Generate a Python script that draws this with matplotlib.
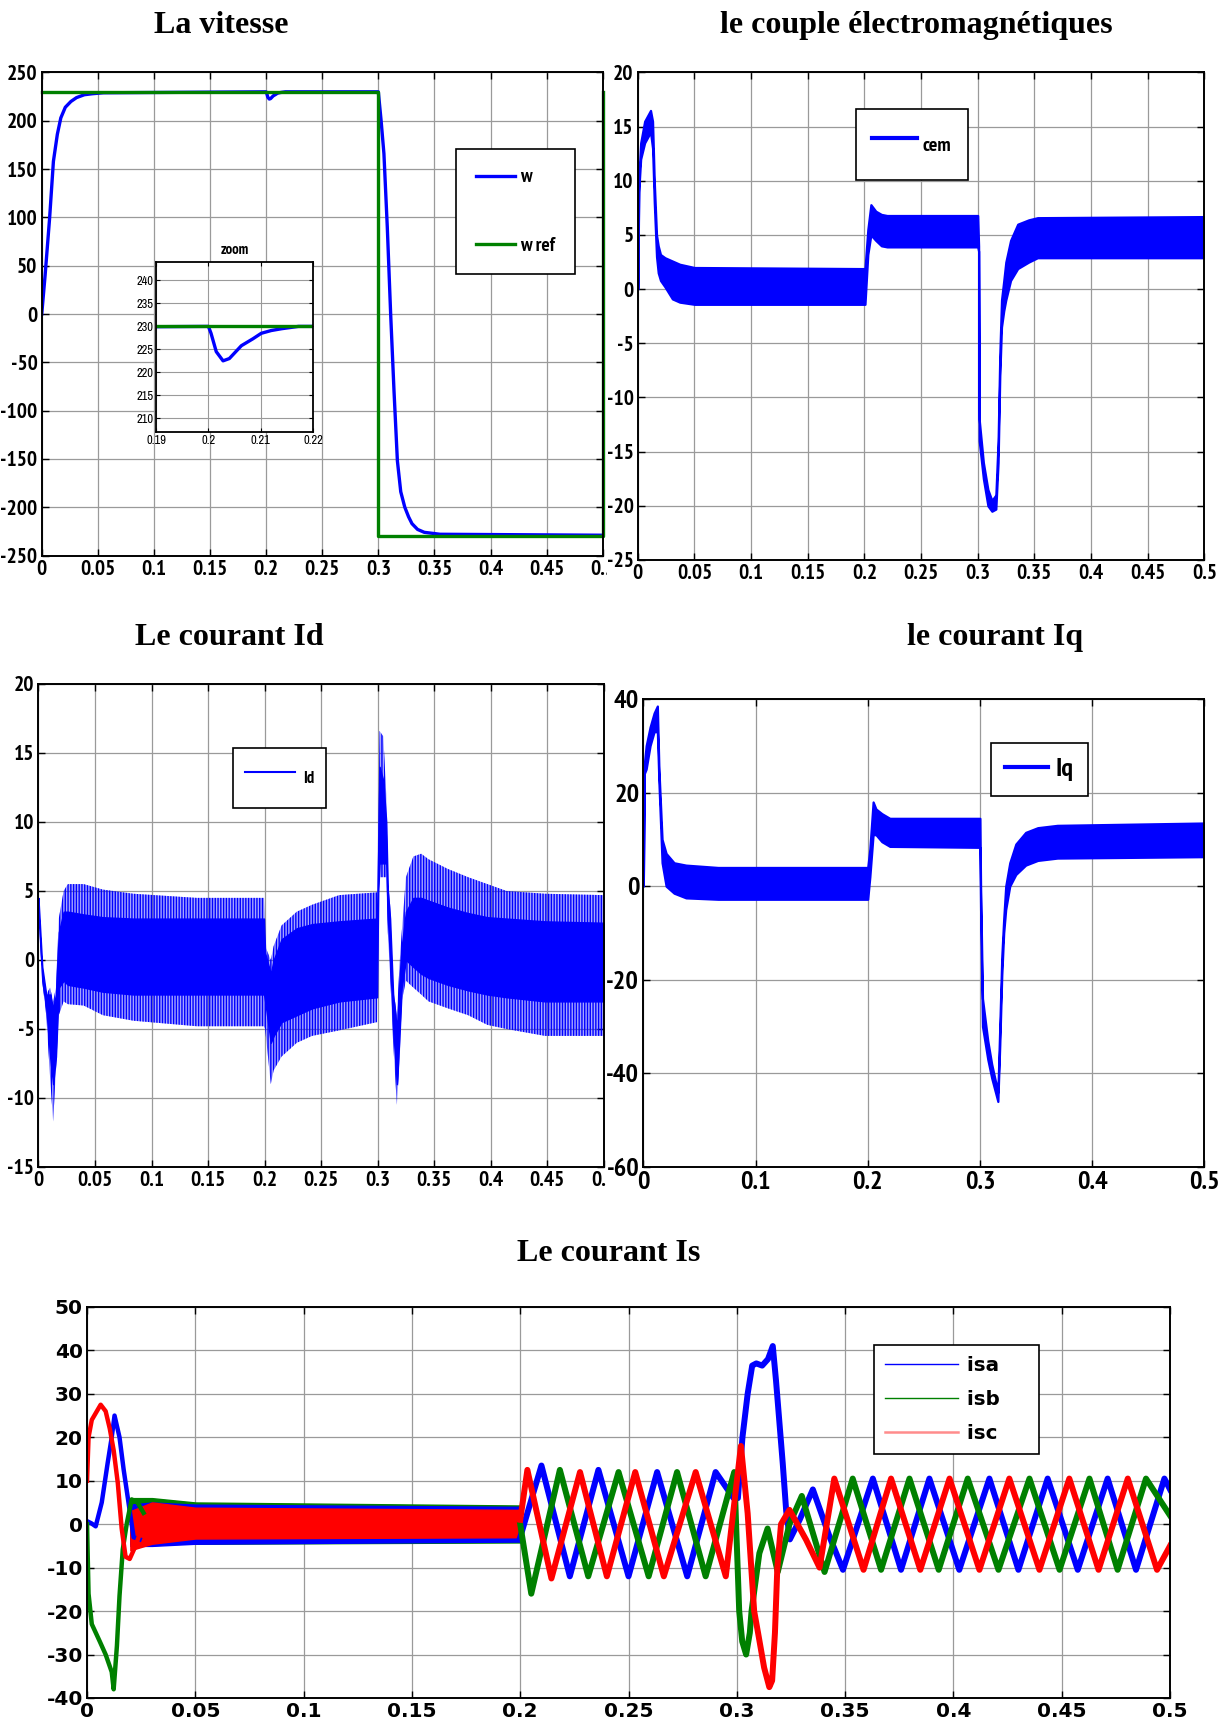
import os
import matplotlib
matplotlib.use("Agg")
import matplotlib.pyplot as plt
from matplotlib import font_manager
from matplotlib.font_manager import FontProperties
from matplotlib.lines import Line2D
from matplotlib.transforms import Bbox, TransformedBbox

# ---------------- data ----------------
# speed w and reference
t_w = [0, 0.003, 0.007, 0.0104, 0.0139, 0.017, 0.021, 0.026, 0.031, 0.038, 0.045, 0.055,
       0.2, 0.2005, 0.2015, 0.2028, 0.204, 0.2063, 0.2085, 0.2101, 0.212, 0.214, 0.2172,
       0.3, 0.3025, 0.305, 0.308, 0.311, 0.314, 0.317, 0.320, 0.3236, 0.327, 0.330, 0.335,
       0.341, 0.355, 0.5]
w = [0, 40, 99, 158, 186, 203, 214, 220, 224, 227, 228, 229,
     230, 228.5, 224.5, 222.5, 223, 225.8, 227.3, 228.5, 229.1, 229.5, 230,
     230, 200, 166, 90, 0, -80, -152, -184, -200, -210, -217, -223,
     -226, -228, -229]
t_wref = [0, 0.3, 0.3, 0.5, 0.5]
wref = [230, 230, -230, -230, 230]

# electromagnetic torque (ripple band: upper / lower envelope)
t_cem = [0, 0.0008, 0.0025, 0.006, 0.0112, 0.013, 0.0145, 0.0165, 0.018, 0.02, 0.024, 0.0305,
         0.037, 0.05, 0.2, 0.2005, 0.203, 0.2057, 0.21, 0.215, 0.22, 0.3, 0.3008, 0.3013,
         0.305, 0.309, 0.3125, 0.316, 0.318, 0.3195, 0.321, 0.323, 0.3248, 0.329, 0.3353,
         0.345, 0.3528, 0.5]
cem_up = [0, 10, 13.5, 15.5, 16.5, 15.5, 10, 5, 4, 3.2, 2.9, 2.6,
          2.3, 2.0, 1.9, 1.9, 5.5, 7.8, 7.2, 6.9, 6.8, 6.8, 4, -12,
          -16, -18.5, -19.5, -19, -14, -6, -1, 0.8, 2.5, 4.5, 6.0,
          6.4, 6.6, 6.7]
cem_lo = [0, 9, 12, 13.5, 14.5, 13, 8, 3, 1.5, 0.8, 0.2, -0.9,
          -1.2, -1.4, -1.4, -1.4, 3.2, 5.0, 4.5, 4.0, 3.9, 3.9, 3.5, -14,
          -17.5, -20, -20.5, -20.3, -16, -8, -3.5, -2, -1, 0.8, 1.9,
          2.5, 2.9, 2.9]

# Id : outer spikes envelope and dense core
t_id = [0, 0.0034, 0.0069, 0.0103, 0.013, 0.0155, 0.018, 0.0223, 0.026, 0.04, 0.057, 0.084,
        0.14, 0.1995, 0.2005, 0.2055, 0.208, 0.215, 0.2285, 0.242, 0.266, 0.2995, 0.3005,
        0.3017, 0.305, 0.3076, 0.309, 0.311, 0.3137, 0.317, 0.3196, 0.3213, 0.325, 0.3316,
        0.3385, 0.345, 0.362, 0.38, 0.397, 0.414, 0.448, 0.5]
id_up = [4.5, -0.5, -2.5, -2, -3, -2, 3, 5, 5.5, 5.5, 5.1, 4.8,
         4.5, 4.5, 1, 0, 1, 2.5, 3.5, 4, 4.7, 4.9, 10,
         16.6, 16.2, 12, 6, 4, -2, -4, 0, 2, 6, 7.5,
         7.7, 7.3, 6.6, 6, 5.5, 5, 4.8, 4.7]
id_lo = [3.5, -1.6, -4, -8.5, -11.7, -8, -4, -3, -3.2, -3.3, -4, -4.4,
         -4.8, -4.8, -5, -9, -8, -7, -6, -5.5, -5.1, -4.5, 4,
         6, 6, 6, 2, -1, -6, -10.5, -7, -3, -1.5, -2,
         -2.5, -3, -3.5, -4, -4.7, -5, -5.5, -5.5]
idc_up = [4.5, -0.5, -2.5, -2.5, -3.5, -2.5, 2, 3.5, 3.5, 3.3, 3.1, 3,
          3, 3, 0.5, -1, 0, 1.5, 2.3, 2.6, 2.8, 3, 8,
          14, 13, 10, 5, 3, -2.5, -5, -1, 1, 3.5, 4.5,
          4.5, 4.3, 3.8, 3.4, 3.1, 3, 2.8, 2.7]
idc_lo = [3.5, -1.5, -3.5, -7, -9, -7, -2, -1.5, -1.8, -2, -2.3, -2.5,
          -2.5, -2.5, -3, -6, -5.5, -4.5, -4, -3.5, -3, -2.7, 5,
          7, 7, 7, 3, 0, -5, -9, -5, -2, 0, -0.5,
          -1, -1.3, -1.8, -2.2, -2.5, -2.7, -3, -3]

# Iq
t_iq = [0, 0.0008, 0.0025, 0.006, 0.0096, 0.0125, 0.0139, 0.0167, 0.0203, 0.0274, 0.038, 0.0666,
        0.2, 0.2019, 0.2048, 0.2073, 0.2126, 0.2197, 0.3, 0.3006, 0.3023, 0.307, 0.3105,
        0.316, 0.3177, 0.3195, 0.3212, 0.323, 0.3266, 0.332, 0.3408, 0.3515, 0.369, 0.5]
iq_up = [0, 26, 30, 34, 37, 38.5, 25, 10, 7, 5, 4.5, 4,
         4, 8, 18, 16.5, 15.5, 14.5, 14.5, 0, -24, -33, -38,
         -44, -30, -15, -7, 0, 5, 9, 11.5, 12.5, 13, 13.5]
iq_lo = [0, 24, 25, 30, 33, 33, 22, 5, 0, -1.5, -2.5, -2.8,
         -2.8, 2, 11, 11, 9.5, 8.5, 8.3, -5, -30, -37, -41,
         -46, -34, -19, -10, -5, 0, 2.5, 4.5, 5.5, 6, 6.3]

# stator currents : start-up transient
isa_t1 = [0, 0.002, 0.004, 0.0068, 0.0095, 0.0114, 0.0127, 0.015, 0.0169, 0.0187, 0.0215, 0.0243]
isa_v1 = [0.7, 0.2, -0.5, 5, 14, 20, 25, 20, 12.6, 6.5, -3, -3.5]
isb_t1 = [0, 0.0007, 0.0022, 0.0059, 0.0086, 0.0114, 0.0123, 0.0138, 0.015, 0.0165, 0.0184, 0.0206, 0.0233, 0.0261]
isb_v1 = [0, -16, -23, -27, -30, -34, -38, -28, -16.5, -5.8, 0.3, 5.7, 5, 2.6]
isc_t1 = [0, 0.0007, 0.0022, 0.0063, 0.0086, 0.0105, 0.0123, 0.0142, 0.016, 0.0178, 0.0197, 0.0224, 0.0252]
isc_v1 = [10, 20, 24, 27.5, 26, 22, 17, 9.5, -1, -7.5, -8, -5, -1]

# stator currents : no-load noise band
t_nz = [0.02, 0.03, 0.05, 0.2]
isa_nz_up = [4.5, 5, 4.5, 4]
isa_nz_lo = [-5, -5, -4.5, -4]
isb_nz_up = [6, 6, 5, 4.3]
isb_nz_lo = [-4.5, -4.5, -4.5, -4.2]
isc_nz_up = [3, 5, 3.8, 3.3]
isc_nz_lo = [-6, -4.5, -3.3, -3]

# stator currents : loaded / reversal (extrema)
isa_t2 = [0.2, 0.2098, 0.2229, 0.2361, 0.25, 0.2632, 0.2771, 0.2902, 0.2985, 0.3005, 0.3026,
          0.305, 0.3071, 0.309, 0.3117, 0.3144, 0.3166, 0.3181, 0.3212, 0.3228, 0.3245, 0.329,
          0.3351, 0.3429, 0.349, 0.3628, 0.3758, 0.3889, 0.4027, 0.4166, 0.43, 0.4435, 0.4574,
          0.4712, 0.4843, 0.4974, 0.5]
isa_v2 = [-3, 13.5, -12, 12.5, -12, 12, -12, 12, 6, 6, 20,
          30, 36.5, 37, 36.5, 38, 41, 33, 14, 3, -3.5, 1,
          8, -3, -10.5, 10.5, -10.5, 10.5, -10.5, 10.5, -10.5, 10.5, -10.5,
          10.5, -10.5, 10.5, 8]
isb_t2 = [0.2, 0.2051, 0.2183, 0.2314, 0.2454, 0.2593, 0.2724, 0.2856, 0.2988, 0.3011, 0.3025,
          0.3043, 0.306, 0.3068, 0.3104, 0.3142, 0.3189, 0.3243, 0.33, 0.3405, 0.3535, 0.3666,
          0.3797, 0.3932, 0.4066, 0.4208, 0.4351, 0.449, 0.4628, 0.4758, 0.4889, 0.5]
isb_v2 = [0, -16, 12.5, -12, 12, -12, 12, -12, 12, -20, -27,
          -30, -25, -20, -6.7, -1, -11, 0, 6.5, -11, 10.5, -10.5,
          10.5, -10.5, 10.5, -10.5, 10.5, -10.5, 10.5, -10.5, 10.5, 2]
isc_t2 = [0.2, 0.2033, 0.2144, 0.2276, 0.24, 0.2531, 0.2663, 0.281, 0.2949, 0.3019, 0.305,
          0.308, 0.3098, 0.3126, 0.315, 0.3163, 0.3176, 0.3187, 0.3204, 0.3243, 0.332, 0.3382,
          0.345, 0.3585, 0.3712, 0.3847, 0.3982, 0.412, 0.4258, 0.4397, 0.4535, 0.467, 0.4805,
          0.494, 0.5]
isc_v2 = [1, 12.5, -12.5, 12, -12, 12, -12, 12, -12, 18, 2.5,
          -20, -25, -33, -37.5, -36, -25, -10, 0, 3.3, -3.6, -10,
          10.5, -10.5, 10.5, -10.5, 10.5, -10.5, 10.5, -10.5, 10.5, -10.5, 10.5,
          -10.5, -5]

# tick labels
xt_fine = [0, 0.05, 0.1, 0.15, 0.2, 0.25, 0.3, 0.35, 0.4, 0.45, 0.5]
xl_fine = ["0", "0.05", "0.1", "0.15", "0.2", "0.25", "0.3", "0.35", "0.4", "0.45", "0.5"]
xt_coarse = [0, 0.1, 0.2, 0.3, 0.4, 0.5]
xl_coarse = ["0", "0.1", "0.2", "0.3", "0.4", "0.5"]
xt_zoom = [0.19, 0.2, 0.21, 0.22]
xl_zoom = ["0.19", "0.2", "0.21", "0.22"]

# ---------------- fonts ----------------
def find_font(keys, bold):
    for f in font_manager.fontManager.ttflist:
        n = (f.name + " " + os.path.basename(f.fname)).lower()
        if "serif" in n or "mono" in n or "italic" in n or "oblique" in n:
            continue
        if not all(k in n for k in keys):
            continue
        if bold != ("bold" in n):
            continue
        return f.fname
    return None


nb = find_font(["narrow"], True) or find_font(["condensed"], True)
nr = find_font(["narrow"], False) or find_font(["condensed"], False)
if nb:
    def NB(size):
        return FontProperties(fname=nb, size=size)
else:
    def NB(size):
        return FontProperties(family="DejaVu Sans", weight="bold", size=size * 0.85)
if nr:
    def NR(size):
        return FontProperties(fname=nr, size=size)
else:
    def NR(size):
        return FontProperties(family="DejaVu Sans", size=size * 0.85)

names = {f.name for f in font_manager.fontManager.ttflist}
SERIF = "Liberation Serif" if "Liberation Serif" in names else "DejaVu Serif"
BLUE = "#0000ff"
GREEN = "#008000"
RED = "#ff0000"
plt.rcParams["hatch.linewidth"] = 1.0

fig = plt.figure(figsize=(12.24, 17.22), dpi=100)


def style_axes(ax, xt, xl, yt, fp):
    ax.set_xlim(0, 0.5)
    ax.set_xticks(xt)
    ax.set_xticklabels(xl)
    ax.set_yticks(yt)
    ax.set_yticklabels([str(v) for v in yt])
    ax.grid(True, color="#9a9a9a", lw=0.9)
    ax.set_axisbelow(True)
    ax.tick_params(direction="in", length=5, width=1, top=True, right=True, pad=3)
    for lab in ax.get_xticklabels() + ax.get_yticklabels():
        lab.set_fontproperties(fp)
    for s in ax.spines.values():
        s.set_linewidth(1.4)


def clip_last_xlabel(ax, xmax_px):
    # the right-most label is cut by the next panel in the reference
    lab = ax.get_xticklabels()[-1]
    lab.set_clip_box(TransformedBbox(Bbox([[0, 0], [xmax_px / 1224, 1]]), fig.transFigure))
    lab.set_clip_on(True)


def title(x, y, s):
    fig.text(x, y, s, family=SERIF, weight="bold", fontsize=23, ha="center", va="baseline")


def frame(leg):
    leg.get_frame().set_linewidth(1.2)
    leg.get_frame().set_edgecolor("black")


# ---------- La vitesse ----------
ax1 = fig.add_axes([0.0341, 0.6774, 0.4583, 0.2805])
ax1.plot(t_w, w, color=BLUE, lw=2.4, label="w")
ax1.plot(t_wref, wref, color=GREEN, lw=2.4, label="w ref", clip_on=False)
ax1.set_ylim(-250, 250)
style_axes(ax1, xt_fine, xl_fine, list(range(-250, 251, 50)), NB(15.5))
clip_last_xlabel(ax1, 607)
leg = ax1.legend(loc="upper left", bbox_to_anchor=(0.722, 0.862), fancybox=False,
                 framealpha=1, handlelength=2.0, labelspacing=2.6, handletextpad=0.3,
                 borderpad=1.0, prop=NB(14))
frame(leg)
title(0.1804, 0.9808, "La vitesse")

axz = fig.add_axes([0.1275, 0.7491, 0.1283, 0.0987])
axz.plot(t_w, w, color=BLUE, lw=2.4)
axz.plot(t_wref, wref, color=GREEN, lw=2.4)
axz.set_xlim(0.19, 0.22)
axz.set_ylim(207, 244)
axz.set_xticks(xt_zoom)
axz.set_xticklabels(xl_zoom)
axz.set_yticks(list(range(210, 241, 5)))
axz.grid(True, color="#9a9a9a", lw=0.8)
axz.tick_params(direction="in", length=3, top=True, right=True, pad=2)
for lab in axz.get_xticklabels() + axz.get_yticklabels():
    lab.set_fontproperties(NR(9))
for s in axz.spines.values():
    s.set_linewidth(1.3)
axz.set_title("zoom", fontproperties=NB(10.5), pad=6)

# ---------- couple ----------
ax2 = fig.add_axes([0.5211, 0.6748, 0.4628, 0.2831])
ax2.fill_between(t_cem, cem_lo, cem_up, color=BLUE, lw=1.6)
ax2.set_ylim(-25, 20)
style_axes(ax2, xt_fine, xl_fine, list(range(-25, 21, 5)), NB(15.5))
h2 = [Line2D([], [], color=BLUE, lw=3)]
leg = ax2.legend(h2, ["cem"], loc="upper left", bbox_to_anchor=(0.368, 0.946), fancybox=False,
                 framealpha=1, handlelength=2.2, handleheight=2.6, handletextpad=0.3,
                 borderpad=0.8, prop=NB(14.5))
frame(leg)
title(0.7484, 0.9808, "le couple électromagnétiques")

# ---------- Id ----------
ax3 = fig.add_axes([0.0314, 0.3223, 0.4619, 0.2805])
ax3.fill_between(t_id, id_lo, id_up, facecolor=BLUE, alpha=0.35, lw=0)
ax3.fill_between(t_id, id_lo, id_up, facecolor="none", edgecolor=BLUE, hatch="||||||", lw=0)
ax3.fill_between(t_id, idc_lo, idc_up, color=BLUE, lw=1.0)
ax3.set_ylim(-15, 20)
style_axes(ax3, xt_fine, xl_fine, list(range(-15, 21, 5)), NB(15.5))
clip_last_xlabel(ax3, 607)
h3 = [Line2D([], [], color=BLUE, lw=1.5)]
leg = ax3.legend(h3, ["Id"], loc="upper left", bbox_to_anchor=(0.33, 0.884), fancybox=False,
                 framealpha=1, handlelength=3.0, handleheight=3.0, handletextpad=0.5,
                 borderpad=0.7, prop=NB(12))
frame(leg)
title(0.1871, 0.6254, "Le courant Id")

# ---------- Iq ----------
ax4 = fig.add_axes([0.5256, 0.3223, 0.4583, 0.2718])
ax4.fill_between(t_iq, iq_lo, iq_up, color=BLUE, lw=1.6)
ax4.set_ylim(-60, 40)
style_axes(ax4, xt_coarse, xl_coarse, list(range(-60, 41, 20)), NB(19))
h4 = [Line2D([], [], color=BLUE, lw=3)]
leg = ax4.legend(h4, ["Iq"], loc="upper left", bbox_to_anchor=(0.596, 0.934), fancybox=False,
                 framealpha=1, handlelength=1.6, handletextpad=0.3, borderpad=0.55,
                 prop=NB(19))
frame(leg)
title(0.8129, 0.6254, "le courant Iq")

# ---------- Is ----------
ax5 = fig.add_axes([0.0711, 0.01394, 0.8848, 0.2271])
ax5.fill_between(t_nz, isb_nz_lo, isb_nz_up, color=GREEN, lw=1.0)
ax5.fill_between(t_nz, isa_nz_lo, isa_nz_up, color=BLUE, lw=1.0)
ax5.fill_between(t_nz, isc_nz_lo, isc_nz_up, color=RED, lw=1.0)
ax5.plot(isa_t1, isa_v1, color=BLUE, lw=3.2)
ax5.plot(isb_t1, isb_v1, color=GREEN, lw=3.2)
ax5.plot(isc_t1, isc_v1, color=RED, lw=3.2)
ax5.plot(isa_t2, isa_v2, color=BLUE, lw=4.3, solid_joinstyle="round")
ax5.plot(isb_t2, isb_v2, color=GREEN, lw=4.3, solid_joinstyle="round")
ax5.plot(isc_t2, isc_v2, color=RED, lw=4.3, solid_joinstyle="round")
ax5.set_ylim(-40, 50)
style_axes(ax5, xt_fine, xl_fine, list(range(-40, 51, 10)),
           FontProperties(family="DejaVu Sans", weight="bold", size=14.5))
h5 = [Line2D([], [], color=BLUE, lw=1), Line2D([], [], color=GREEN, lw=1),
      Line2D([], [], color="#ff8c8c", lw=1.8)]
leg = ax5.legend(h5, ["isa    ", "isb    ", "isc    "], loc="upper left",
                 bbox_to_anchor=(0.7175, 0.928), fancybox=False, framealpha=1,
                 handlelength=3.7, labelspacing=0.75, borderpad=0.55, handletextpad=0.45,
                 prop=FontProperties(family="DejaVu Sans", weight="bold", size=14.3))
frame(leg)
title(0.4975, 0.2677, "Le courant Is")

fig.savefig("out.png", dpi=100)
